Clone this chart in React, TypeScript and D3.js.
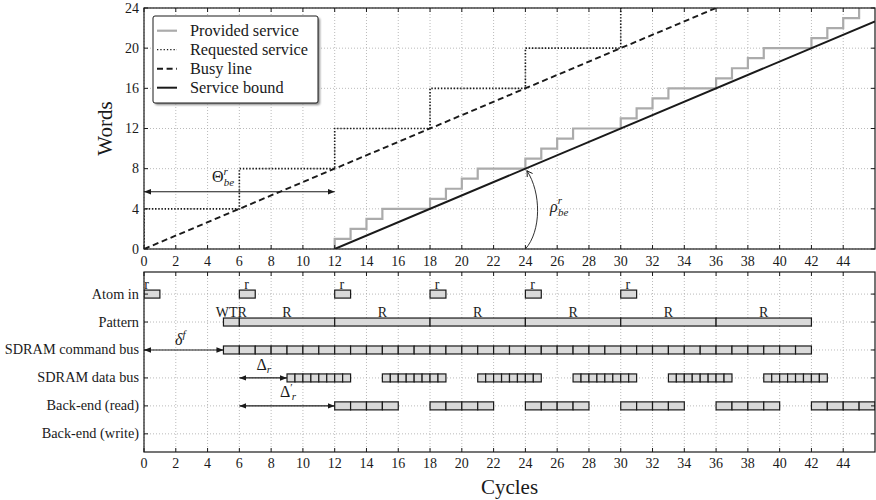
import React from 'react';
import * as d3 from 'd3';

// ---- data ----
const cycleTicks = [0, 2, 4, 6, 8, 10, 12, 14, 16, 18, 20, 22, 24, 26, 28, 30, 32, 34, 36, 38, 40, 42, 44];
const wordTicks = [0, 4, 8, 12, 16, 20, 24];

// Provided service: cumulative words delivered (step after each cycle)
const providedCycles = [12, 12, 13, 14, 15, 18, 19, 20, 21, 24, 25, 26, 27, 30, 31, 32, 33, 36, 37, 38, 39, 42, 43, 44, 45];
const providedWords = [0, 1, 2, 3, 4, 5, 6, 7, 8, 9, 10, 11, 12, 13, 14, 15, 16, 17, 18, 19, 20, 21, 22, 23, 24];

// Requested service: cumulative words requested
const requestedCycles = [0, 0, 6, 12, 18, 24, 30];
const requestedWords = [0, 4, 8, 12, 16, 20, 24];

// Busy line and service bound (start / end points)
const busyCycles = [0, 36];
const busyWords = [0, 24];
const boundCycles = [12, 46];
const boundWords = [0, 22.667];

const legendItems = ['Provided service', 'Requested service', 'Busy line', 'Service bound'];

// Timeline rows
const rowLabels = ['Atom in', 'Pattern', 'SDRAM command bus', 'SDRAM data bus', 'Back-end (read)', 'Back-end (write)'];
const atomStarts = [0, 6, 12, 18, 24, 30];
const atomLength = 1;
const patternStarts = [5, 6, 12, 18, 24, 30, 36];
const patternEnds = [6, 12, 18, 24, 30, 36, 42];
const patternLabels = ['WTR', 'R', 'R', 'R', 'R', 'R', 'R'];
const commandBusSpan = [5, 42]; // one command slot per cycle
const dataBurstStarts = [9, 15, 21, 27, 33, 39];
const dataBurstCycles = 4;
const dataBeatsPerBurst = 8;
const readBurstStarts = [12, 18, 24, 30, 36, 42];
const readWordsPerBurst = 4;

const FONT = "'Liberation Serif', 'DejaVu Serif', serif";
const GRID = '#a8a8a8';
const BAR_FILL = '#dadada';
const INK = '#1a1a1a';

export default function App() {
  const x = d3.scaleLinear().domain([0, 46]).range([144, 875]);
  const yTop = d3.scaleLinear().domain([0, 24]).range([249, 8]);
  const yRow = d3.scaleLinear().domain([-0.79, 5.65]).range([272, 452]);

  const [tx0, tx1] = x.range();
  const [ty1, ty0] = yTop.range();
  const [by0, by1] = yRow.range();

  const pts = (cs: number[], ws: number[]) => cs.map((c, i) => [c, ws[i]] as [number, number]);
  const straight = d3.line<[number, number]>().x(d => x(d[0])).y(d => yTop(d[1]));
  const stepped = d3.line<[number, number]>().x(d => x(d[0])).y(d => yTop(d[1])).curve(d3.curveStepAfter);

  const barH = 8;
  const segs = (start: number, end: number, n: number) => {
    const w = (end - start) / n;
    return d3.range(n).map(k => [start + k * w, start + (k + 1) * w]);
  };

  const bar = (row: number, a: number, b: number, key: string) => (
    <rect key={key} x={x(a)} y={yRow(row) - barH / 2} width={x(b) - x(a)} height={barH}
      fill={BAR_FILL} stroke={INK} strokeWidth={1.2} />
  );

  const commandSlots = segs(commandBusSpan[0], commandBusSpan[1], commandBusSpan[1] - commandBusSpan[0]);

  const tickLen = 4;

  // legend geometry
  const lgX = 153, lgY = 16, lgW = 165, lgH = 87;
  const legendRowY = (i: number) => 30.7 + i * 19;

  const rhoStartX = x(24), rhoStartY = yTop(0);
  const rhoEndX = x(24) + 1.5, rhoEndY = yTop(8) + 2;

  return (
    <svg width={876} height={500} style={{ position: 'absolute', left: 0, top: 0, background: '#fff' }}
      fontFamily={FONT}>
      <defs>
        <marker id="fillHead" viewBox="0 0 10 10" refX="10" refY="5" markerWidth="7" markerHeight="7"
          orient="auto-start-reverse" markerUnits="userSpaceOnUse">
          <path d="M0,1 L10,5 L0,9 Z" fill={INK} />
        </marker>
        <marker id="openHead" viewBox="-7 -5 9 10" refX="0" refY="0" markerWidth="9" markerHeight="10"
          orient="auto" markerUnits="userSpaceOnUse">
          <path d="M-5.5,-3.2 Q-1.5,-0.6 0,0 Q-1.5,0.6 -5.5,3.2" fill="none" stroke={INK} strokeWidth={0.9} />
        </marker>
        <clipPath id="topClip"><rect x={tx0} y={ty0} width={tx1 - tx0} height={ty1 - ty0} /></clipPath>
        <clipPath id="botClip"><rect x={tx0} y={by0} width={tx1 - tx0} height={by1 - by0} /></clipPath>
        <filter id="shadow" x="-10%" y="-10%" width="130%" height="130%">
          <feGaussianBlur stdDeviation="0.8" />
        </filter>
      </defs>

      {/* ===== service curves ===== */}
      <g>
        {cycleTicks.map(c => (
          <line key={'gv' + c} x1={x(c)} x2={x(c)} y1={ty0} y2={ty1} stroke={GRID} strokeWidth={0.8} strokeDasharray="1 2" />
        ))}
        {wordTicks.map(w => (
          <line key={'gh' + w} x1={tx0} x2={tx1} y1={yTop(w)} y2={yTop(w)} stroke={GRID} strokeWidth={0.8} strokeDasharray="1 2" />
        ))}

        <g clipPath="url(#topClip)">
          <path d={stepped(pts(providedCycles, providedWords)) || ''} fill="none" stroke="#ababab" strokeWidth={2.2} />
          <path d={stepped(pts(requestedCycles, requestedWords)) || ''} fill="none" stroke={INK} strokeWidth={1.6} strokeDasharray="1.4 1.8" />
          <path d={straight(pts(busyCycles, busyWords)) || ''} fill="none" stroke={INK} strokeWidth={1.9} strokeDasharray="6 3.6" />
          <path d={straight(pts(boundCycles, boundWords)) || ''} fill="none" stroke={INK} strokeWidth={2} />
        </g>

        {/* Theta arrow */}
        <line x1={x(0)} x2={x(12)} y1={yTop(5.7)} y2={yTop(5.7)} stroke={INK} strokeWidth={1.2}
          markerStart="url(#fillHead)" markerEnd="url(#fillHead)" />
        <text x={212} y={182} fontSize={16} fill={INK}>
          <tspan>Θ</tspan>
          <tspan fontStyle="italic" fontSize={11} dy={-7}>r</tspan>
          <tspan fontStyle="italic" fontSize={11} dx={-4} dy={11}>be</tspan>
        </text>

        {/* rho arc */}
        <path d={`M${rhoStartX},${rhoStartY} C${rhoStartX + 16},${rhoStartY - 18} ${rhoStartX + 16},${rhoEndY + 22} ${rhoEndX},${rhoEndY}`}
          fill="none" stroke={INK} strokeWidth={0.9} markerEnd="url(#openHead)" />
        <text x={550} y={212} fontSize={16} fill={INK}>
          <tspan fontStyle="italic">ρ</tspan>
          <tspan fontStyle="italic" fontSize={11} dy={-8}>r</tspan>
          <tspan fontStyle="italic" fontSize={11} dx={-4} dy={12}>be</tspan>
        </text>

        {/* frame & ticks */}
        <rect x={tx0} y={ty0} width={tx1 - tx0} height={ty1 - ty0} fill="none" stroke={INK} strokeWidth={1.2} />
        {cycleTicks.map(c => (
          <g key={'tt' + c}>
            <line x1={x(c)} x2={x(c)} y1={ty1} y2={ty1 - tickLen} stroke={INK} strokeWidth={1} />
            <line x1={x(c)} x2={x(c)} y1={ty0} y2={ty0 + tickLen} stroke={INK} strokeWidth={1} />
            <text x={x(c)} y={265.5} fontSize={14} textAnchor="middle" fill={INK}>{c}</text>
          </g>
        ))}
        {wordTicks.map(w => (
          <g key={'wt' + w}>
            <line x1={tx0} x2={tx0 + tickLen} y1={yTop(w)} y2={yTop(w)} stroke={INK} strokeWidth={1} />
            <line x1={tx1} x2={tx1 - tickLen} y1={yTop(w)} y2={yTop(w)} stroke={INK} strokeWidth={1} />
            <text x={139} y={yTop(w) + 4.8} fontSize={14} textAnchor="end" fill={INK}>{w}</text>
          </g>
        ))}
        <text transform={`translate(112,${(ty0 + ty1) / 2}) rotate(-90)`} fontSize={21} textAnchor="middle" fill={INK}>Words</text>

        {/* legend */}
        <rect x={lgX + 2} y={lgY + 2} width={lgW} height={lgH} rx={2} fill="#8a8a8a" filter="url(#shadow)" />
        <rect x={lgX} y={lgY} width={lgW} height={lgH} rx={2} fill="#fff" stroke={INK} strokeWidth={1} />
        {legendItems.map((name, i) => {
          const ly = legendRowY(i);
          const style = [
            { stroke: '#ababab', w: 2.2, dash: undefined },
            { stroke: INK, w: 1.3, dash: '1.3 2' },
            { stroke: INK, w: 1.9, dash: '6 3.6' },
            { stroke: INK, w: 2, dash: undefined },
          ][i];
          return (
            <g key={name}>
              <line x1={157} x2={177} y1={ly} y2={ly} stroke={style.stroke} strokeWidth={style.w} strokeDasharray={style.dash} />
              <text x={190} y={ly + 5.5} fontSize={16.3} fill={INK}>{name}</text>
            </g>
          );
        })}
      </g>

      {/* ===== timeline ===== */}
      <g>
        {cycleTicks.map(c => (
          <line key={'bv' + c} x1={x(c)} x2={x(c)} y1={by0} y2={by1} stroke={GRID} strokeWidth={0.8} strokeDasharray="1 2" />
        ))}
        {rowLabels.map((r, i) => (
          <line key={'bh' + r} x1={tx0} x2={tx1} y1={yRow(i)} y2={yRow(i)} stroke={GRID} strokeWidth={0.8} strokeDasharray="1 2" />
        ))}

        <g clipPath="url(#botClip)">
          {atomStarts.map((s, k) => bar(0, s, s + atomLength, 'a' + k))}
          {patternStarts.map((s, k) => bar(1, s, patternEnds[k], 'p' + k))}
          {commandSlots.map(([a, b], k) => bar(2, a, b, 'c' + k))}
          {dataBurstStarts.flatMap((s, k) =>
            segs(s, s + dataBurstCycles, dataBeatsPerBurst).map(([a, b], j) => bar(3, a, b, `d${k}-${j}`)))}
          {readBurstStarts.flatMap((s, k) =>
            segs(s, s + readWordsPerBurst, readWordsPerBurst).map(([a, b], j) => bar(4, a, b, `r${k}-${j}`)))}
        </g>

        {atomStarts.map((s, k) => (
          <text key={'al' + k} x={k === 0 ? x(s) + 2.5 : x(s + 0.45)} y={yRow(0) - 5.5} fontSize={14} textAnchor="middle" fill={INK}>r</text>
        ))}
        {patternLabels.map((l, k) => (
          <text key={'pl' + k} x={x((patternStarts[k] + patternEnds[k]) / 2)} y={yRow(1) - 5.5} fontSize={14}
            textAnchor="middle" fill={INK}>{l}</text>
        ))}

        {/* latency arrows */}
        <line x1={x(0)} x2={x(commandBusSpan[0])} y1={yRow(2)} y2={yRow(2)} stroke={INK} strokeWidth={1.2}
          markerStart="url(#fillHead)" markerEnd="url(#fillHead)" />
        <text x={175} y={345} fontSize={16} fill={INK}>
          <tspan fontStyle="italic">δ</tspan>
          <tspan fontStyle="italic" fontSize={11} dy={-7}>f</tspan>
        </text>
        <line x1={x(6)} x2={x(dataBurstStarts[0])} y1={yRow(3)} y2={yRow(3)} stroke={INK} strokeWidth={1.2}
          markerStart="url(#fillHead)" markerEnd="url(#fillHead)" />
        <text x={256.5} y={370} fontSize={16} fill={INK}>
          <tspan>Δ</tspan>
          <tspan fontStyle="italic" fontSize={11} dy={3}>r</tspan>
        </text>
        <line x1={x(6)} x2={x(readBurstStarts[0])} y1={yRow(4)} y2={yRow(4)} stroke={INK} strokeWidth={1.2}
          markerStart="url(#fillHead)" markerEnd="url(#fillHead)" />
        <text x={280} y={396.5} fontSize={16} fill={INK}>
          <tspan>Δ</tspan>
          <tspan fontSize={11} dy={-6}>′</tspan>
          <tspan fontStyle="italic" fontSize={11} dx={-1} dy={9}>r</tspan>
        </text>

        {/* frame & ticks */}
        <rect x={tx0} y={by0} width={tx1 - tx0} height={by1 - by0} fill="none" stroke={INK} strokeWidth={1.2} />
        {cycleTicks.map(c => (
          <g key={'bt' + c}>
            <line x1={x(c)} x2={x(c)} y1={by1} y2={by1 - tickLen} stroke={INK} strokeWidth={1} />
            <line x1={x(c)} x2={x(c)} y1={by0} y2={by0 + tickLen} stroke={INK} strokeWidth={1} />
            <text x={x(c)} y={468} fontSize={14} textAnchor="middle" fill={INK}>{c}</text>
          </g>
        ))}
        {rowLabels.map((r, i) => (
          <g key={'rl' + r}>
            <line x1={tx0} x2={tx0 + tickLen} y1={yRow(i)} y2={yRow(i)} stroke={INK} strokeWidth={1} />
            <line x1={tx1} x2={tx1 - tickLen} y1={yRow(i)} y2={yRow(i)} stroke={INK} strokeWidth={1} />
            <text x={139} y={yRow(i) + 4.5} fontSize={14.3} textAnchor="end" fill={INK}>{r}</text>
          </g>
        ))}
        <text x={(tx0 + tx1) / 2} y={494} fontSize={21} textAnchor="middle" fill={INK}>Cycles</text>
      </g>
    </svg>
  );
}
